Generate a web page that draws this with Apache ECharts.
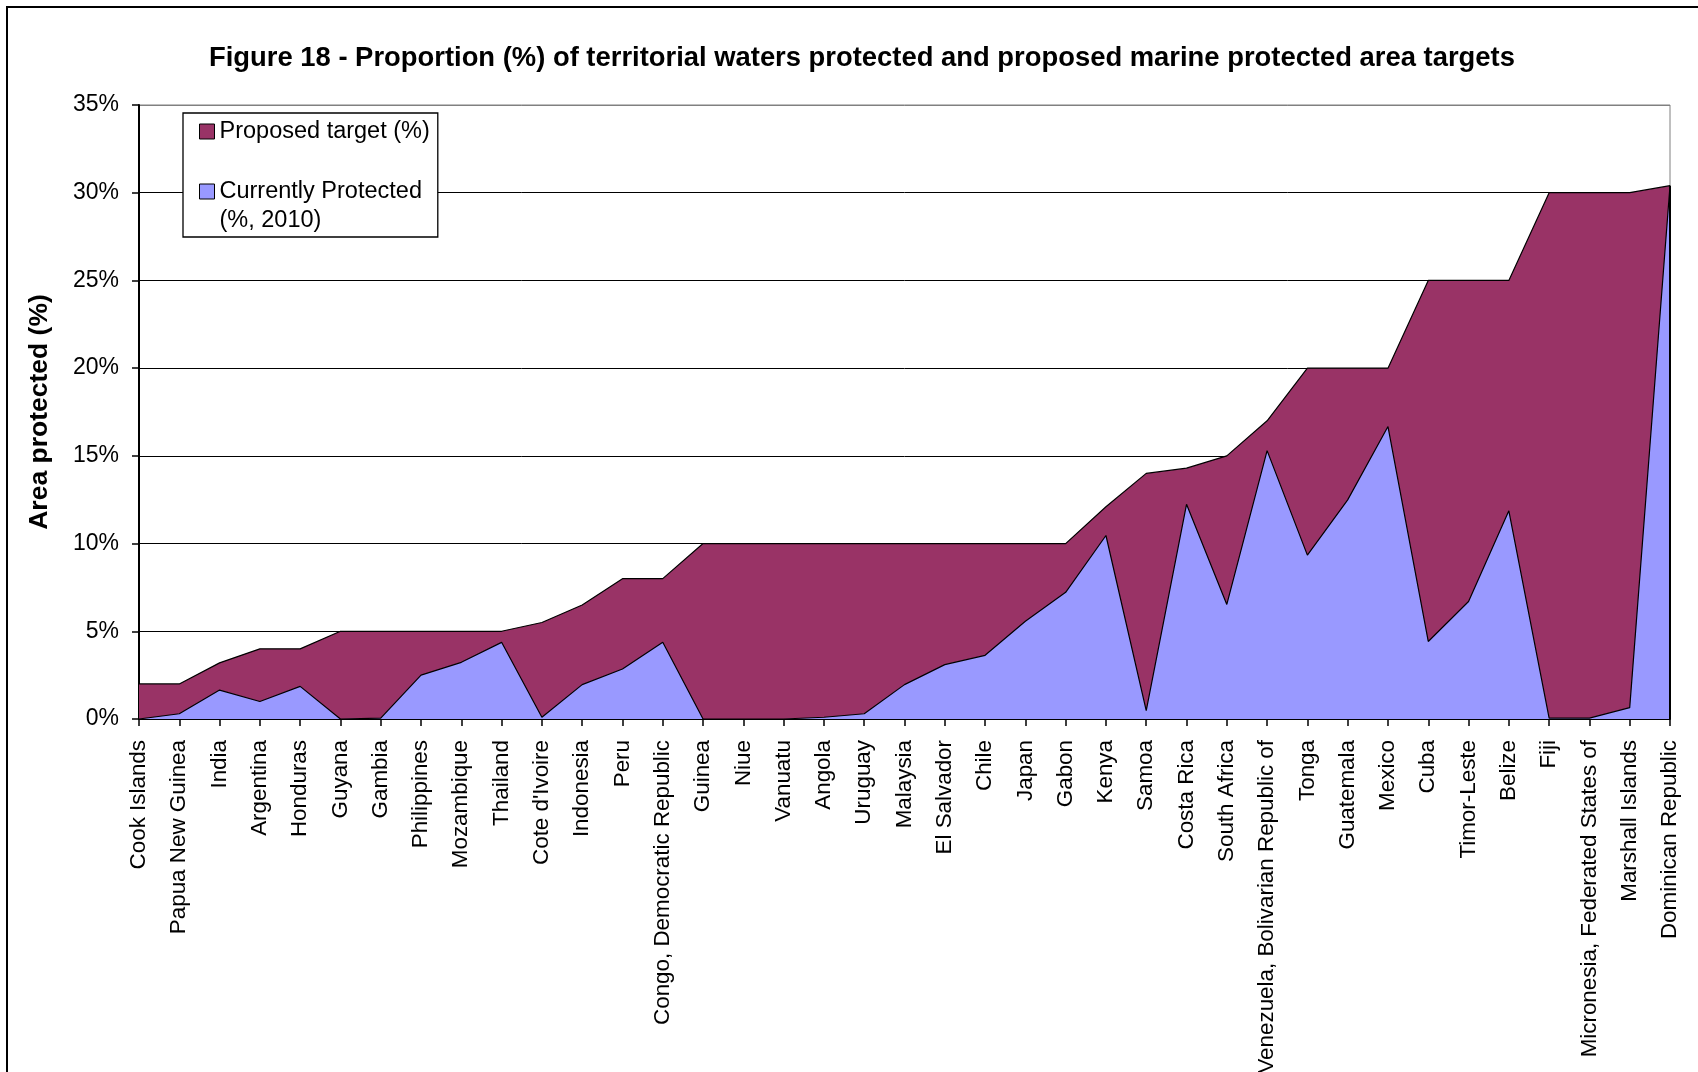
<!DOCTYPE html>
<html>
<head>
<meta charset="utf-8">
<title>Marine protected area targets</title>
<script src="https://cdn.jsdelivr.net/npm/echarts@6/dist/echarts.min.js"></script>
<style>
  html, body { margin: 0; padding: 0; background: #ffffff; }
  #chart { width: 1698px; height: 1072px; }
</style>
</head>
<body>
<div id="chart"></div>
<script>
// Countries, ordered by proposed target
const countries = [
  'Cook Islands', 'Papua New Guinea', 'India', 'Argentina', 'Honduras',
  'Guyana', 'Gambia', 'Philippines', 'Mozambique', 'Thailand',
  "Cote d'Ivoire", 'Indonesia', 'Peru', 'Congo, Democratic Republic', 'Guinea',
  'Niue', 'Vanuatu', 'Angola', 'Uruguay', 'Malaysia',
  'El Salvador', 'Chile', 'Japan', 'Gabon', 'Kenya',
  'Samoa', 'Costa Rica', 'South Africa', 'Venezuela, Bolivarian Republic of', 'Tonga',
  'Guatemala', 'Mexico', 'Cuba', 'Timor-Leste', 'Belize',
  'Fiji', 'Micronesia, Federated States of', 'Marshall Islands', 'Dominican Republic'
];

// Proposed marine protected area target (% of territorial waters)
const proposedTarget = [
  2, 2, 3.2, 4, 4,
  5, 5, 5, 5, 5,
  5.5, 6.5, 8, 8, 10,
  10, 10, 10, 10, 10,
  10, 10, 10, 10, 12.1,
  14, 14.3, 15, 17, 20,
  20, 20, 25, 25, 25,
  30, 30, 30, 30.4
];

// Share of territorial waters currently protected (%, 2010)
const currentlyProtected = [
  0, 0.3, 1.65, 1.0, 1.86,
  0, 0.05, 2.5, 3.23, 4.37,
  0.1, 1.96, 2.85, 4.37, 0,
  0, 0, 0.1, 0.3, 1.96,
  3.1, 3.63, 5.57, 7.22, 10.46,
  0.48, 12.24, 6.53, 15.3, 9.34,
  12.49, 16.67, 4.42, 6.7, 11.87,
  0.05, 0.05, 0.65, 30.4
];

// Value axis ticks (%)
const yTicks = [0, 5, 10, 15, 20, 25, 30, 35];

const seriesNames = ['Proposed target (%)', 'Currently Protected (%, 2010)'];
const seriesColors = ['#993366', '#9999FF'];

const FONT = '"Liberation Sans", Arial, sans-serif';
const lastIdx = countries.length - 1;

const chart = echarts.init(document.getElementById('chart'), null, { renderer: 'canvas' });

chart.setOption({
  animation: false,
  backgroundColor: '#ffffff',
  textStyle: { fontFamily: FONT, color: '#000' },
  title: {
    text: 'Figure 18 - Proportion (%) of territorial waters protected and proposed marine protected area targets',
    left: 209,
    top: 42,
    padding: 0,
    textStyle: { fontFamily: FONT, fontSize: 27.4, fontWeight: 'bold', color: '#000', lineHeight: 32 }
  },
  graphic: [{
    // outer chart frame
    type: 'rect',
    z: 100,
    silent: true,
    shape: { x: 7, y: 7, width: 2000, height: 2000 },
    style: { fill: 'none', stroke: '#000', lineWidth: 2 }
  }],
  legend: {
    orient: 'vertical',
    left: 183,
    top: 113,
    padding: [4, 8, 2, 16],
    itemGap: 2,
    itemWidth: 15,
    itemHeight: 15,
    icon: 'rect',
    backgroundColor: '#ffffff',
    borderColor: '#000',
    borderWidth: 1.3,
    z: 10,
    selectedMode: false,
    itemStyle: { borderColor: '#000', borderWidth: 1 },
    textStyle: { fontFamily: FONT, fontSize: 23.5, color: '#000', lineHeight: 29 },
    // the two-line entry gets a blank leading line so its first line sits beside the swatch
    formatter: function (name) {
      return name === seriesNames[1] ? ' \nCurrently Protected\n(%, 2010)' : name;
    },
    data: [seriesNames[0], seriesNames[1]]
  },
  grid: {
    left: 139,
    right: 28,
    top: 105,
    bottom: 353,
    outerBoundsMode: 'none',
    containLabel: false,
    show: true,
    borderColor: '#808080',
    borderWidth: 1,
    backgroundColor: 'transparent'
  },
  xAxis: {
    type: 'category',
    data: countries,
    boundaryGap: false,
    axisLine: { show: true, onZero: false, lineStyle: { color: '#000', width: 2 } },
    axisTick: { show: true, interval: 0, length: 7, lineStyle: { color: '#000', width: 1.5 } },
    axisLabel: {
      interval: 0,
      rotate: 90,
      margin: 21,
      fontFamily: FONT,
      fontSize: 22.4,
      color: '#000'
    },
    splitLine: { show: false }
  },
  yAxis: {
    type: 'value',
    min: yTicks[0],
    max: yTicks[yTicks.length - 1],
    interval: yTicks[1] - yTicks[0],
    name: 'Area protected (%)',
    nameLocation: 'middle',
    nameGap: 86,
    nameTextStyle: { fontFamily: FONT, fontSize: 26.5, fontWeight: 'bold', color: '#000' },
    axisLine: { show: true, lineStyle: { color: '#000', width: 2 } },
    axisTick: { show: true, length: 7, lineStyle: { color: '#000', width: 1.5 } },
    axisLabel: {
      margin: 20,
      fontFamily: FONT,
      fontSize: 23,
      color: '#000',
      formatter: '{value}%'
    },
    splitLine: {
      show: true,
      lineStyle: {
        width: 1,
        color: ['#000', '#000', '#000', '#000', '#000', '#000', '#000', '#808080']
      }
    }
  },
  series: [
    {
      name: seriesNames[0],
      type: 'line',
      data: proposedTarget,
      symbol: 'none',
      smooth: false,
      z: 2,
      itemStyle: { color: seriesColors[0] },
      lineStyle: { color: '#000', width: 1.2 },
      areaStyle: { color: seriesColors[0], opacity: 1 }
    },
    {
      name: seriesNames[1],
      type: 'line',
      data: currentlyProtected,
      symbol: 'none',
      smooth: false,
      z: 3,
      itemStyle: { color: seriesColors[1] },
      lineStyle: { color: '#000', width: 1.2 },
      areaStyle: { color: seriesColors[1], opacity: 1 },
      markLine: {
        silent: true,
        symbol: 'none',
        label: { show: false },
        lineStyle: { color: '#000', width: 2, type: 'solid' },
        data: [[
          { coord: [countries[lastIdx], 0] },
          { coord: [countries[lastIdx], proposedTarget[lastIdx]] }
        ]]
      }
    }
  ]
});
</script>
</body>
</html>
